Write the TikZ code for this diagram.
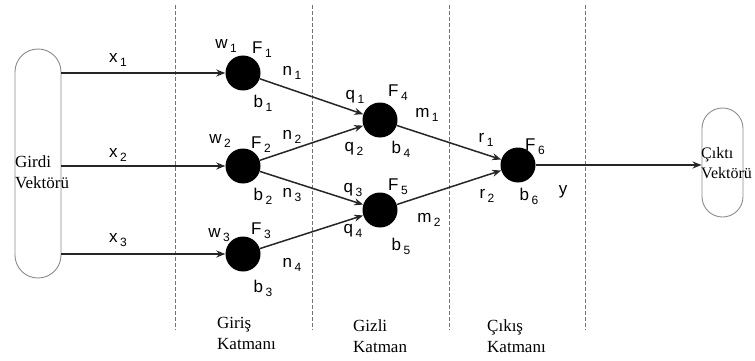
\documentclass[tikz,border=0pt]{standalone}
\usepackage{fontspec}
\setmainfont{Liberation Serif}
\newfontfamily\lblfont{Liberation Sans}
\usetikzlibrary{arrows.meta}
\newcommand{\sublbl}[2]{{\lblfont\fontsize{17}{17}\selectfont #1\kern2.5pt\raisebox{-4pt}{\fontsize{12}{12}\selectfont #2}}}

\begin{document}
\begin{tikzpicture}[x=1pt,y=-1pt,>={Stealth[length=9pt,width=7pt]},
    neuron/.style={circle,fill=black,minimum size=35pt,inner sep=0pt},
    vecbox/.style={draw=black!45,line width=0.9pt,inner sep=0pt},
    link/.style={->,line width=1.5pt,black!85},
    layer/.style={draw=black!55,line width=0.7pt,dash pattern=on 4pt off 2pt},
    txt/.style={font=\fontsize{17}{21}\selectfont,align=left,inner sep=0pt,anchor=west}]
    \useasboundingbox (0,0) rectangle (755,361);
    % katman sinirlari
    \foreach \x in {175,312,449,585}
        \draw[layer] (\x,5) -- (\x,330);
    % girdi ve cikti vektorleri
    \node[vecbox,minimum width=46pt,minimum height=229pt,rounded corners=22.9pt] (inbox) at (38,163.5) {};
    \node[vecbox,minimum width=41pt,minimum height=109pt,rounded corners=20.4pt] (outbox) at (722.5,162.5) {};
    \node[txt] (intext) at (15,172.5) {Girdi\\Vektörü};
    \node[txt,font=\fontsize{16}{20}\selectfont] (outtext) at (701,163) {Çıktı\\Vektörü};
    % noronlar
    \node[neuron] (f1) at (243,73) {};
    \node[neuron] (f2) at (243,166) {};
    \node[neuron] (f3) at (243,254) {};
    \node[neuron] (f4) at (380,120) {};
    \node[neuron] (f5) at (380,210) {};
    \node[neuron] (f6) at (518,165) {};
    % baglantilar
    \draw[link] (inbox.east |- f1) -- (f1);
    \draw[link] (inbox.east |- f2) -- (f2);
    \draw[link] (inbox.east |- f3) -- (f3);
    \draw[link] (f1) -- (f4);
    \draw[link] (f2) -- (f4);
    \draw[link] (f2) -- (f5);
    \draw[link] (f3) -- (f5);
    \draw[link] (f4) -- (f6);
    \draw[link] (f5) -- (f6);
    \draw[link] (f6) -- (outbox.west |- f6);
    % etiketler
    \node (lx1) at (118,60) {\sublbl{x}{1}};
    \node (lx2) at (118,155) {\sublbl{x}{2}};
    \node (lx3) at (118,240) {\sublbl{x}{3}};
    \node (lw1) at (226,46) {\sublbl{w}{1}};
    \node (lw2) at (220,141) {\sublbl{w}{2}};
    \node (lw3) at (219,235) {\sublbl{w}{3}};
    \node (lF1) at (262,50) {\sublbl{F}{1}};
    \node (lF2) at (261,145) {\sublbl{F}{2}};
    \node (lF3) at (261,231) {\sublbl{F}{3}};
    \node (lb1) at (263,103) {\sublbl{b}{1}};
    \node (lb2) at (263,196) {\sublbl{b}{2}};
    \node (lb3) at (263,288) {\sublbl{b}{3}};
    \node (ln1) at (292,73) {\sublbl{n}{1}};
    \node (ln2) at (292,137) {\sublbl{n}{2}};
    \node (ln3) at (292,195) {\sublbl{n}{3}};
    \node (ln4) at (292,265) {\sublbl{n}{4}};
    \node (lq1) at (355,97) {\sublbl{q}{1}};
    \node (lq2) at (354,149) {\sublbl{q}{2}};
    \node (lq3) at (353,190) {\sublbl{q}{3}};
    \node (lq4) at (353,231) {\sublbl{q}{4}};
    \node (lF4) at (398,93) {\sublbl{F}{4}};
    \node (lF5) at (398,187) {\sublbl{F}{5}};
    \node (lb4) at (401,149) {\sublbl{b}{4}};
    \node (lb5) at (401,246) {\sublbl{b}{5}};
    \node (lm1) at (427,115) {\sublbl{m}{1}};
    \node (lm2) at (429,220) {\sublbl{m}{2}};
    \node (lr1) at (486,140) {\sublbl{r}{1}};
    \node (lr2) at (487,196) {\sublbl{r}{2}};
    \node (lF6) at (535,147) {\sublbl{F}{6}};
    \node (lb6) at (529,196) {\sublbl{b}{6}};
    \node (ly) at (563,192) {{\lblfont\fontsize{17}{17}\selectfont y}};
    % katman adlari
    \node[txt] (giris) at (217,333) {Giriş\\Katmanı};
    \node[txt] (gizli) at (353,336) {Gizli\\Katman};
    \node[txt] (cikis) at (487,336) {Çıkış\\Katmanı};
\end{tikzpicture}
\end{document}
